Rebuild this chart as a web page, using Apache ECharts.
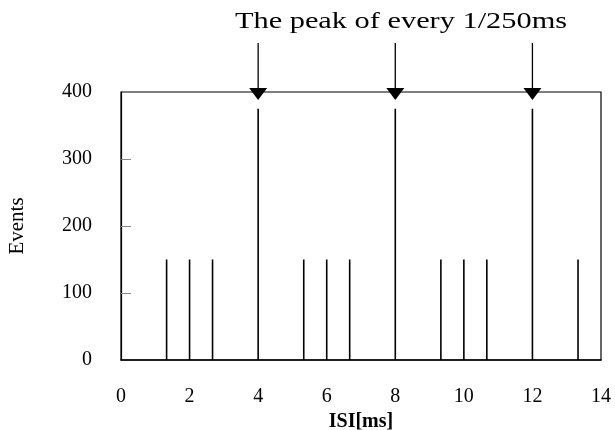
<!DOCTYPE html>
<html><head><meta charset="utf-8">
<script src="https://cdn.jsdelivr.net/npm/echarts@6/dist/echarts.min.js"></script>
<style>html,body{margin:0;padding:0;background:#fff}#c{width:615px;height:430px}</style>
</head><body><div id="c"></div>
<script>
const isiValues = [1.33, 2, 2.67, 4, 5.33, 6, 6.67, 8, 9.33, 10, 10.67, 12, 13.33];
const eventCounts = [150, 150, 150, 375, 150, 150, 150, 375, 150, 150, 150, 375, 150];
const peakPositions = [4, 8, 12];
const xTicks = [0, 2, 4, 6, 8, 10, 12, 14];
const yTicks = [0, 100, 200, 300, 400];
const yInnerTicks = [100, 200, 300];
const titleText = 'The peak of every 1/250ms';

const font = 'Liberation Serif';
const chart = echarts.init(document.getElementById('c'));
chart.setOption({
  animation: false,
  backgroundColor: '#fff',
  graphic: [{type: 'text', x: 401, y: 22, scaleX: 1.32,
    style: {text: titleText, fontFamily: font, fontSize: 23, fill: '#000', align: 'center', verticalAlign: 'middle'}}],
  grid: {left: 121, right: 14, top: 92, bottom: 70, show: true, borderColor: '#000', borderWidth: 1.2,
    containLabel: false, outerBoundsMode: 'none'},
  xAxis: {type: 'value', min: xTicks[0], max: xTicks[xTicks.length-1], interval: 2, z: 3,
    name: 'ISI[ms]', nameLocation: 'middle', nameGap: 43,
    nameTextStyle: {fontFamily: font, fontSize: 20, fontWeight: 'bold', color: '#000'},
    axisLine: {lineStyle: {color: '#000', width: 1.5}},
    axisTick: {show: false}, splitLine: {show: false},
    axisLabel: {fontFamily: font, fontSize: 20, color: '#000', margin: 27}},
  yAxis: {type: 'value', min: yTicks[0], max: yTicks[yTicks.length-1], interval: 100, z: 1,
    name: 'Events', nameLocation: 'middle', nameGap: 93, nameRotate: 90,
    nameTextStyle: {fontFamily: font, fontSize: 21, color: '#000'},
    axisLine: {show: true, lineStyle: {color: '#000', width: 1.2}},
    axisTick: {show: true, inside: true, length: 10, customValues: yInnerTicks, lineStyle: {color: '#888', width: 1}},
    splitLine: {show: false},
    axisLabel: {fontFamily: font, fontSize: 20, color: '#000', margin: 29, verticalAlign: 'middle'}},
  series: [
    {type: 'bar', data: isiValues.map((x, i) => [x, eventCounts[i]]), barWidth: 1.6,
      itemStyle: {color: '#000'}},
    {type: 'custom', clip: false, data: peakPositions.map(x => [x, yTicks[yTicks.length-1]]),
      renderItem: function (params, api) {
        const p = api.coord([api.value(0), api.value(1)]);
        return {type: 'group', children: [
          {type: 'line', shape: {x1: p[0], y1: p[1] - 49, x2: p[0], y2: p[1]}, style: {stroke: '#000', lineWidth: 1.3}},
          {type: 'polygon', shape: {points: [[p[0]-9, p[1]-4], [p[0]+9, p[1]-4], [p[0], p[1]+8]]}, style: {fill: '#000'}}
        ]};
      }}
  ]
});
</script></body></html>
